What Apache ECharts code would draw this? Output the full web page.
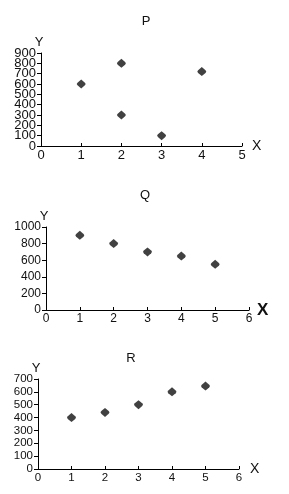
<!DOCTYPE html>
<html>
<head>
<meta charset="utf-8">
<script src="https://cdn.jsdelivr.net/npm/echarts@6/dist/echarts.min.js"></script>
<style>
html,body{margin:0;padding:0;background:#fff;}
#c{width:289px;height:494px;}
</style>
</head>
<body>
<div id="c"></div>
<script>
// Data
var titles = ['P', 'Q', 'R'];
var pData = [[1, 600], [2, 800], [2, 300], [3, 100], [4, 720]];
var qData = [[1, 900], [2, 800], [3, 700], [4, 650], [5, 550]];
var rData = [[1, 400], [2, 440], [3, 500], [4, 600], [5, 645]];
var xMax = [5, 6, 6];
var yMax = [900, 1000, 700];
var yInterval = [100, 200, 100];

var FONT = 'Liberation Sans, Arial, sans-serif';
var grids = [
  {left: 41, right: 47, top: 53, bottom: 348},
  {left: 46, right: 40, top: 227, bottom: 184},
  {left: 38, right: 50, top: 379, bottom: 25}
];
var labelSize = [13, 12, 11.5];
var xNameStyle = [
  {fontSize: 14, fontWeight: 'normal', padding: [6, 0, 0, 0], gap: 10},
  {fontSize: 17, fontWeight: 'bold', padding: [3, 0, 0, 0], gap: 8},
  {fontSize: 14, fontWeight: 'normal', padding: [5, 0, 0, 0], gap: 11}
];
var titlePos = [{x: 141, y: 10}, {x: 140, y: 184}, {x: 126, y: 347}];
var MARK = 'path://M0,-10 L7,-3 Q10,0 7,3 L0,10 L-7,3 Q-10,0 -7,-3 Z';

var xAxes = [], yAxes = [], series = [], titleArr = [];
var datas = [pData, qData, rData];
function fmt(v) { return String(v); }
// labels are split across two overlapping axes (even / odd ticks) so that
// dense tick labels are all drawn like in the reference
function parityFmt(parity) {
  return function (v, idx) { return (idx % 2 === parity) ? String(v) : ''; };
}
for (var i = 0; i < 3; i++) {
  titleArr.push({
    text: titles[i], left: titlePos[i].x, top: titlePos[i].y, textAlign: 'center',
    textStyle: {fontFamily: FONT, fontSize: 13, fontWeight: 'normal', color: '#111'}
  });
  xAxes.push({
    gridIndex: i, type: 'value', min: 0, max: xMax[i], interval: 1,
    name: 'X', nameLocation: 'end', nameGap: xNameStyle[i].gap,
    nameTextStyle: {fontFamily: FONT, fontSize: xNameStyle[i].fontSize, fontWeight: xNameStyle[i].fontWeight, color: '#111', padding: xNameStyle[i].padding},
    axisLine: {show: true, onZero: false, lineStyle: {color: '#000', width: 1}},
    axisTick: {show: true, inside: true, length: 3, lineStyle: {color: '#000'}},
    axisLabel: {fontFamily: FONT, fontSize: labelSize[i], color: '#111', margin: 3, hideOverlap: false,
      showMinLabel: true, showMaxLabel: true, formatter: fmt},
    splitLine: {show: false}
  });
  for (var p = 0; p < 2; p++) {
    yAxes.push({
      gridIndex: i, type: 'value', position: 'left', offset: 0,
      min: 0, max: yMax[i], interval: yInterval[i],
      name: p === 0 ? 'Y' : '', nameLocation: 'end', nameGap: 4,
      nameTextStyle: {fontFamily: FONT, fontSize: 13, color: '#111', align: 'center', padding: [0, 4, 0, 0]},
      axisLine: {show: p === 0, onZero: false, lineStyle: {color: '#000', width: 1}},
      axisTick: {show: p === 0, inside: false, length: 4, lineStyle: {color: '#000'}},
      axisLabel: {fontFamily: FONT, fontSize: labelSize[i], color: '#111', margin: 5, hideOverlap: false,
        formatter: parityFmt(p)},
      splitLine: {show: false}
    });
  }
  series.push({
    type: 'scatter', xAxisIndex: i, yAxisIndex: i * 2, data: datas[i],
    symbol: MARK, symbolSize: [9, 9],
    itemStyle: {color: '#111'}
  });
}

var chart = echarts.init(document.getElementById('c'), null, {renderer: 'canvas'});
chart.setOption({
  animation: false,
  backgroundColor: '#fff',
  title: titleArr,
  grid: grids,
  xAxis: xAxes,
  yAxis: yAxes,
  series: series
});
</script>
</body>
</html>
